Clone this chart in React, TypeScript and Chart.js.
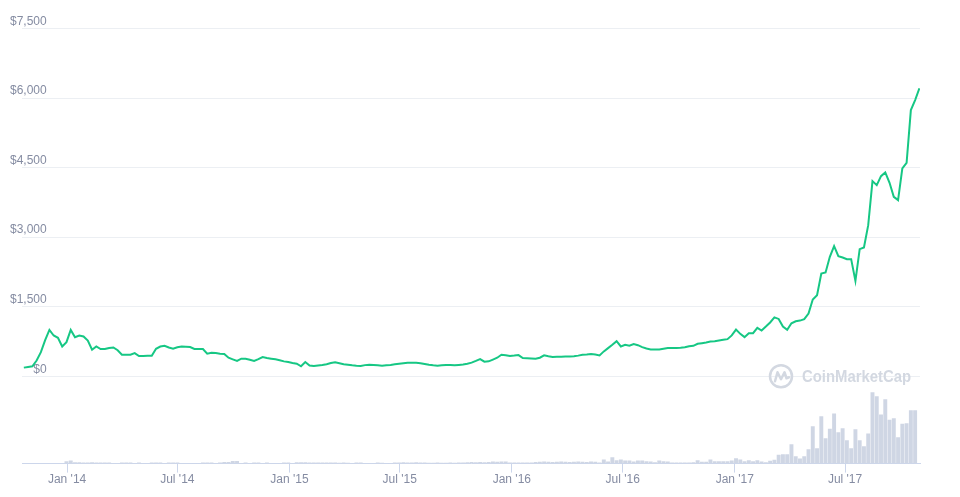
import React, { useEffect, useRef } from "react";
import { Chart, registerables } from "chart.js";

Chart.register(...registerables);

const DAY_MS = 86400000;
const WEEK_MS = 7 * DAY_MS;
const START_DATE = Date.UTC(2013, 9, 22);
const X_MIN = Date.UTC(2013, 9, 19);
const X_MAX = Date.UTC(2017, 10, 1);

const MONTH_NAMES = ["Jan", "Feb", "Mar", "Apr", "May", "Jun", "Jul", "Aug", "Sep", "Oct", "Nov", "Dec"];
const X_TICK_DATES: [number, number][] = [
  [2014, 0], [2014, 6], [2015, 0], [2015, 6], [2016, 0], [2016, 6], [2017, 0], [2017, 6],
];
const Y_TICKS = [0, 1500, 3000, 4500, 6000, 7500];

// Weekly closing price (USD)
const PRICE = [
  186, 200, 214, 340, 520, 780, 1000, 879, 829, 643,
  736, 1000, 843, 879, 857, 771, 571, 643, 586, 586,
  610, 620, 560, 464, 464, 464, 500, 436, 438, 440,
  443, 593, 640, 657, 620, 593, 625, 643, 635, 629,
  590, 586, 586, 486, 507, 500, 485, 479, 400, 365,
  329, 379, 379, 357, 329, 370, 414, 395, 379, 365,
  345, 321, 305, 285, 271, 214, 307, 230, 221, 232,
  243, 260, 285, 300, 280, 257, 250, 235, 225, 221,
  240, 250, 243, 235, 229, 237, 245, 257, 268, 280,
  293, 293, 293, 282, 264, 248, 235, 229, 238, 243,
  240, 236, 243, 252, 270, 293, 330, 371, 314, 321,
  360, 400, 464, 455, 436, 445, 457, 393, 390, 385,
  379, 400, 450, 430, 414, 418, 421, 425, 428, 429,
  445, 464, 470, 479, 470, 450, 536, 607, 680, 757,
  643, 679, 657, 693, 670, 629, 600, 579, 579, 579,
  595, 607, 609, 611, 614, 625, 645, 657, 700, 714,
  730, 750, 757, 770, 785, 800, 880, 1007, 914, 843,
  929, 929, 1043, 986, 1071, 1160, 1271, 1236, 1071, 1000,
  1143, 1186, 1200, 1230, 1353, 1655, 1748, 2216, 2238, 2575,
  2805, 2590, 2562, 2525, 2525, 2057, 2741, 2777, 3259, 4208,
  4122, 4316, 4396, 4172, 3870, 3798, 4482, 4603, 5740, 5956,
  6209,
];

// Weekly volume (USD billions)
const VOLUME = [
  null, null, null, null, null, null, null, null, null, null,
  0.12, 0.15, 0.07, 0.07, 0.06, 0.06, 0.07, 0.05, 0.05, 0.05,
  0.05, 0.02, 0.02, 0.05, 0.05, 0.05, 0.03, 0.05, 0.02, 0.02,
  0.05, 0.05, 0.05, 0.03, 0.05, 0.05, 0.05, 0.02, 0.02, 0.02,
  0.02, 0.02, 0.05, 0.05, 0.05, 0.02, 0.05, 0.08, 0.08, 0.13,
  0.13, 0.03, 0.05, 0.02, 0.05, 0.05, 0.02, 0.05, 0.02, 0.02,
  0.02, 0.05, 0.05, 0.02, 0.07, 0.07, 0.07, 0.06, 0.06, 0.06,
  0.05, 0.05, 0.05, 0.05, 0.04, 0.05, 0.04, 0.02, 0.05, 0.05,
  0.02, 0.02, 0.02, 0.05, 0.04, 0.02, 0.02, 0.06, 0.06, 0.07,
  0.06, 0.06, 0.07, 0.06, 0.05, 0.04, 0.04, 0.05, 0.04, 0.04,
  0.05, 0.04, 0.05, 0.06, 0.07, 0.08, 0.07, 0.08, 0.07, 0.08,
  0.1, 0.09, 0.1, 0.1, 0.05, 0.05, 0.06, 0.05, 0.05, 0.05,
  0.08, 0.09, 0.1, 0.09, 0.08, 0.09, 0.1, 0.09, 0.08, 0.09,
  0.1, 0.09, 0.08, 0.1, 0.09, 0.05, 0.2, 0.1, 0.32, 0.17,
  0.2, 0.15, 0.15, 0.1, 0.15, 0.15, 0.12, 0.1, 0.07, 0.15,
  0.12, 0.1, 0.05, 0.05, 0.05, 0.05, 0.05, 0.07, 0.17, 0.09,
  0.09, 0.2, 0.12, 0.12, 0.12, 0.12, 0.15, 0.27, 0.2, 0.12,
  0.17, 0.12, 0.17, 0.1, 0.07, 0.14, 0.19, 0.44, 0.47, 0.47,
  0.97, 0.37, 0.25, 0.37, 0.72, 1.87, 0.77, 2.37, 1.27, 1.74,
  2.5, 1.57, 1.77, 1.17, 0.77, 1.72, 1.17, 0.87, 1.5, 3.57,
  3.37, 2.45, 3.22, 2.19, 2.27, 1.32, 1.99, 2.02, 2.67, 2.67,
  null,
];

const LABEL_COLOR = "#858ca2";
const GRID_COLOR = "#eceff3";
const AXIS_COLOR = "#ccd6eb";
const LINE_COLOR = "#16c784";
const BAR_COLOR = "#cfd6e4";
const WATERMARK_COLOR = "#d3d8e1";

const watermarkPlugin = {
  id: "cmcWatermark",
  beforeDatasetsDraw(chart: any) {
    const { ctx, chartArea, scales } = chart;
    const cy = scales.y.getPixelForValue(0);
    const cx = chartArea.right - 139;
    ctx.save();
    ctx.strokeStyle = WATERMARK_COLOR;
    ctx.lineWidth = 2.5;
    ctx.lineCap = "round";
    ctx.lineJoin = "round";
    ctx.beginPath();
    ctx.arc(cx, cy, 11, 0, Math.PI * 2);
    ctx.stroke();
    ctx.beginPath();
    ctx.moveTo(cx - 6, cy + 5);
    ctx.lineTo(cx - 3.5, cy - 4);
    ctx.lineTo(cx, cy + 3);
    ctx.lineTo(cx + 3.5, cy - 4);
    ctx.lineTo(cx + 5.5, cy + 2);
    ctx.lineTo(cx + 8, cy + 1);
    ctx.stroke();
    ctx.fillStyle = WATERMARK_COLOR;
    ctx.font = 'bold 16px "Liberation Sans", Arial, sans-serif';
    ctx.textAlign = "left";
    ctx.textBaseline = "middle";
    ctx.fillText("CoinMarketCap", chartArea.right - 118, cy + 1, 109);
    ctx.restore();
  },
};

export default function App() {
  const canvasRef = useRef<HTMLCanvasElement | null>(null);

  useEffect(() => {
    if (!canvasRef.current) return;
    Chart.defaults.font.family = '"Liberation Sans", Arial, sans-serif';
    const priceData = PRICE.map((p, i) => ({ x: START_DATE + i * WEEK_MS, y: p }));
    const volumeData = VOLUME.map((v, i) => ({ x: START_DATE + i * WEEK_MS, y: v }));

    const chart = new Chart(canvasRef.current, {
      type: "line",
      data: {
        datasets: [
          {
            type: "line",
            label: "Price",
            data: priceData,
            xAxisID: "x",
            yAxisID: "y",
            borderColor: LINE_COLOR,
            borderWidth: 2,
            pointRadius: 0,
            tension: 0,
            fill: false,
            order: 0,
          },
          {
            type: "bar",
            label: "Volume",
            data: volumeData as any,
            xAxisID: "x",
            yAxisID: "y2",
            backgroundColor: BAR_COLOR,
            barPercentage: 0.92,
            categoryPercentage: 1,
            order: 1,
          } as any,
        ],
      },
      options: {
        animation: false,
        responsive: true,
        maintainAspectRatio: false,
        layout: { padding: { left: 0, right: 32, top: 20.5, bottom: 2 } },
        plugins: {
          legend: { display: false },
          tooltip: { enabled: false },
        },
        scales: {
          x: {
            type: "linear",
            min: X_MIN,
            max: X_MAX,
            offset: false,
            afterBuildTicks: (scale: any) => {
              scale.ticks = X_TICK_DATES.map(([y, m]) => ({ value: Date.UTC(y, m, 1) }));
            },
            grid: {
              display: true,
              offset: false,
              drawOnChartArea: false,
              drawTicks: true,
              tickLength: 9,
              color: AXIS_COLOR,
            },
            border: { display: true, color: AXIS_COLOR, width: 1 },
            ticks: {
              autoSkip: false,
              maxRotation: 0,
              padding: 0,
              color: LABEL_COLOR,
              font: { size: 12 },
              callback: (value: any) => {
                const d = new Date(Number(value));
                const yy = String(d.getUTCFullYear() % 100).padStart(2, "0");
                return `${MONTH_NAMES[d.getUTCMonth()]} '${yy}`;
              },
            },
          },
          y: {
            type: "linear",
            position: "left",
            min: -1884,
            max: 7500,
            afterBuildTicks: (scale: any) => {
              scale.ticks = Y_TICKS.map((v) => ({ value: v }));
            },
            afterFit: (scale: any) => {
              scale.width = 14;
            },
            grid: { color: GRID_COLOR, drawTicks: false, lineWidth: 1 },
            border: { display: false },
            ticks: {
              mirror: true,
              crossAlign: "far",
              padding: -12,
              labelOffset: -7,
              color: LABEL_COLOR,
              font: { size: 12 },
              callback: (value: any) => "$" + Number(value).toLocaleString("en-US"),
            },
          },
          y2: {
            type: "linear",
            position: "right",
            display: false,
            min: 0,
            max: 21.74,
          },
        },
      } as any,
      plugins: [watermarkPlugin],
    });

    return () => chart.destroy();
  }, []);

  return (
    <div style={{ position: "relative", height: "481px" }}>
      <canvas ref={canvasRef} />
    </div>
  );
}
